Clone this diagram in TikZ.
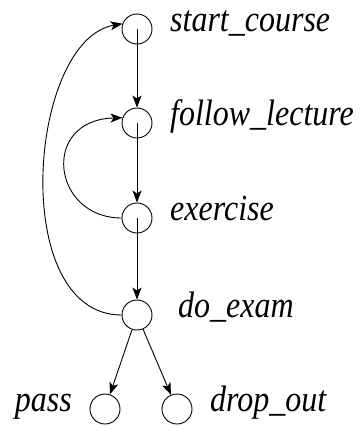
\documentclass[tikz,border=0pt]{standalone}
\usepackage{fontspec}
\setmainfont{Liberation Serif}
\usetikzlibrary{arrows.meta}
\newcommand{\lbltext}[1]{\scalebox{1}[1.15]{#1}}
\begin{document}
\begin{tikzpicture}[x=1pt,y=-1pt,
  st/.style={circle,draw,minimum size=30pt,inner sep=0pt,line width=0.9pt},
  lbl/.style={font=\itshape\fontsize{32}{36}\selectfont,inner sep=0pt},
  arr/.style={-{Stealth[length=12pt,width=9pt,inset=3pt]},line width=0.9pt}]
\useasboundingbox (0,0) rectangle (362,432);
\node[st] (sc) at (137,29) {};
\node[st] (fl) at (137,123) {};
\node[st] (ex) at (137,218) {};
\node[st] (de) at (137,315) {};
\node[st] (pa) at (105,409) {};
\node[st] (dr) at (177,409) {};
\node[lbl,anchor=mid west] (lsc) at (170,29) {\lbltext{start\_course}};
\node[lbl,anchor=mid west] (lfl) at (170,123) {\lbltext{follow\_lecture}};
\node[lbl,anchor=mid west] (lex) at (170,218) {\lbltext{exercise}};
\node[lbl,anchor=mid west] (lde) at (178,315) {\lbltext{do\_exam}};
\node[lbl,anchor=mid east] (lpa) at (72,409) {\lbltext{pass}};
\node[lbl,anchor=mid west] (ldr) at (210,409) {\lbltext{drop\_out}};
\draw[arr] (sc.center) -- (fl.north);
\draw[arr] (fl.center) -- (ex.north);
\draw[arr] (ex.center) -- (de.north);
\draw[arr] (de) -- (pa);
\draw[arr] (de) -- (dr);
\draw[arr] (ex.west) .. controls (52,218) and (40,120) .. (fl.160);
\draw[arr] (de.west) .. controls (8,315) and (28,40) .. (sc.160);
\end{tikzpicture}
\end{document}
